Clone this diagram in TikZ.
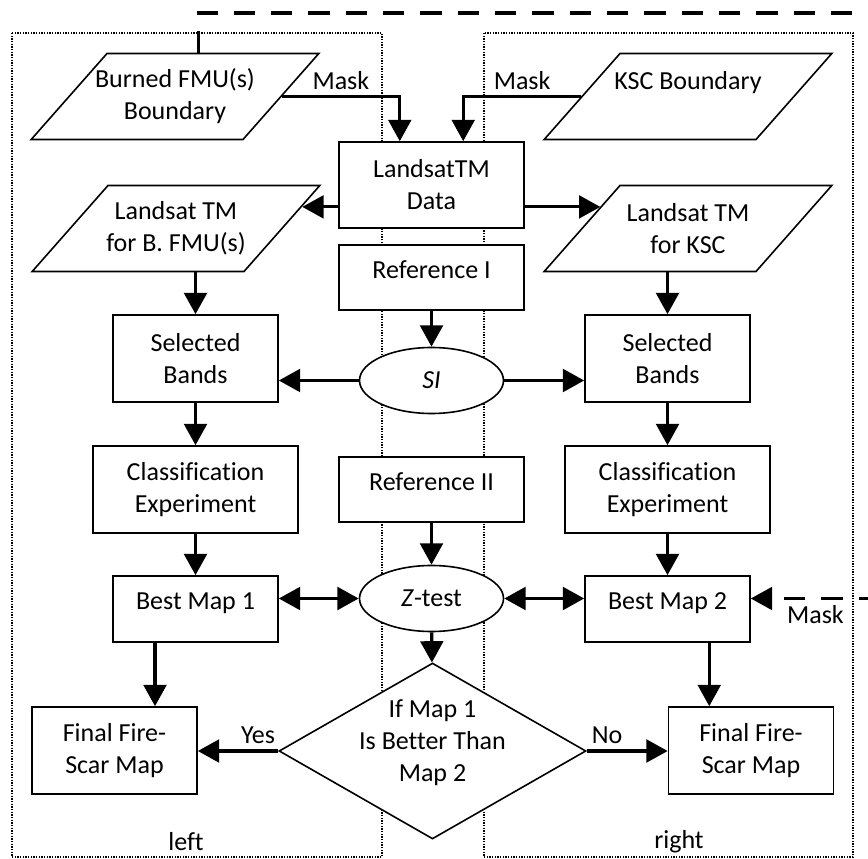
\documentclass[tikz,border=0pt]{standalone}
\usepackage{fontspec}
\setmainfont{Carlito}[Ligatures=NoCommon]
\usetikzlibrary{shapes.geometric, arrows.meta, positioning, calc}

\begin{document}
\begin{tikzpicture}[
    x=0.75pt, y=-0.75pt,
    font=\fontsize{19.5}{24}\selectfont,
    % Node styles
    process/.style={
        rectangle,
        draw=black,
        line width=1.2pt,
        fill=white,
        inner sep=1pt,
        align=center,
        minimum width=123.75pt,
        minimum height=65.25pt
    },
    oneline/.style={
        text height=10pt,
        text depth=9pt
    },
    dataset/.style={
        trapezium,
        trapezium left angle=48.6,
        trapezium right angle=131.4,
        draw=black,
        line width=1.2pt,
        fill=white,
        inner sep=0pt,
        text width=102pt,
        text height=64.5pt,
        text depth=0pt,
        label={[align=center]center:{#1}}
    },
    oval/.style={
        ellipse,
        draw=black,
        line width=1.2pt,
        fill=white,
        inner sep=0pt,
        minimum width=108pt,
        minimum height=49.5pt
    },
    decision/.style={
        diamond,
        draw=black,
        line width=1.2pt,
        fill=white,
        inner sep=0pt,
        minimum width=230.25pt,
        minimum height=132pt,
        label={[align=center, yshift=6pt]center:{#1}}
    },
    arrow/.style={
        -{Triangle[length=16pt, width=17pt]},
        line width=2.4pt
    },
    dblarrow/.style={
        {Triangle[length=16pt, width=17pt]}-{Triangle[length=16pt, width=17pt]},
        line width=2.4pt
    },
    maskline/.style={
        -{Triangle[length=16pt, width=17pt]},
        line width=2.4pt,
        dash pattern=on 16pt off 12pt
    },
    frame/.style={
        line width=1pt,
        dash pattern=on 1pt off 1pt
    },
    edgelabel/.style={
        inner sep=4pt
    },
    framelabel/.style={
        inner sep=0pt
    }
]
\useasboundingbox (0,0) rectangle (868,859);

% --- Frames (left / right) ---
\draw[frame] (12,33) rectangle (382,857);
\draw[frame] (484,33) rectangle (853,857);
\node[framelabel] (lefttag) at (186,842) {left};
\node[framelabel] (righttag) at (679,842) {right};

% --- Inputs ---
\node[dataset={Burned FMU(s)\\Boundary}] (burned) at (175,96.5) {};
\node[dataset={KSC Boundary\\\mbox{}}] (ksc) at (688,96.5) {};
\node[process, minimum width=138.75pt, minimum height=64.5pt] (data) at (431.5,185) {LandsatTM\\Data};

% --- Subsets ---
\node[dataset={Landsat TM\\for B. FMU(s)}] (lsb) at (176,228.5) {};
\node[dataset={Landsat TM\\for KSC}] (lsk) at (688,228.5) {};
\node[process, oneline, minimum width=138.75pt, minimum height=48.75pt] (ref1) at (431.5,277.5) {Reference I};

% --- Band selection ---
\node[oval] (si) at (431.5,380.5) {\textit{SI}};
\node[process] (sel1) at (195.5,358.5) {Selected\\Bands};
\node[process] (sel2) at (667.5,358.5) {Selected\\Bands};

% --- Classification ---
\node[process, minimum width=153.75pt] (cls1) at (195.5,489.5) {Classification\\Experiment};
\node[process, minimum width=153.75pt] (cls2) at (667.5,489.5) {Classification\\Experiment};
\node[process, oneline, minimum width=138.75pt, minimum height=48.75pt] (ref2) at (431.5,489.5) {Reference II};

% --- Comparison ---
\node[oval] (ztest) at (431.5,598.5) {\textit{Z}-test};
\node[process, oneline, minimum height=49.5pt] (best1) at (195.5,609) {Best Map 1};
\node[process, oneline, minimum height=49.5pt] (best2) at (667.5,609) {Best Map 2};
\node[decision={If Map 1\\Is Better Than\\Map 2}] (cmp) at (432.5,751) {};

% --- Outputs ---
\node[process] (fire1) at (114.5,750.5) {Final Fire-\\Scar Map};
\node[process] (fire2) at (751,750.5) {Final Fire-\\Scar Map};

% --- Arrows ---
\coordinate (datain1) at ($(data.north west)!0.33!(data.north east)$);
\coordinate (datain2) at ($(data.north west)!0.67!(data.north east)$);
\draw[arrow] (burned.east) -| node[edgelabel, pos=0.25, above] (mask1) {Mask} (datain1);
\draw[arrow] (ksc.west) -| node[edgelabel, pos=0.25, above] (mask2) {Mask} (datain2);

\coordinate (dataout1) at ($(data.north west)!0.75!(data.south west)$);
\coordinate (dataout2) at ($(data.north east)!0.75!(data.south east)$);
\coordinate (lsbin) at ($(lsb.top right corner)!0.25!(lsb.bottom right corner)$);
\coordinate (lskin) at ($(lsk.top left corner)!0.25!(lsk.bottom left corner)$);
\draw[arrow] (dataout1) -- (dataout1 -| lsbin);
\draw[arrow] (dataout2) -- (dataout2 -| lskin);

\draw[arrow] (lsb.south -| sel1.north) -- (sel1.north);
\draw[arrow] (lsk.south -| sel2.north) -- (sel2.north);
\draw[arrow] (ref1) -- (si);
\draw[arrow] (si.west) -- (si.west -| sel1.east);
\draw[arrow] (si.east) -- (si.east -| sel2.west);
\draw[arrow] (sel1) -- (cls1);
\draw[arrow] (sel2) -- (cls2);
\draw[arrow] (cls1) -- (best1);
\draw[arrow] (cls2) -- (best2);
\draw[arrow] (ref2) -- (ztest);
\draw[dblarrow] (ztest.west) -- (ztest.west -| best1.east);
\draw[dblarrow] (ztest.east) -- (ztest.east -| best2.west);
\draw[arrow] (ztest) -- (cmp);

\coordinate (drop1) at ($(best1.south west)!0.5!(fire1.north east)$);
\coordinate (drop2) at ($(best2.south east)!0.5!(fire2.north west)$);
\draw[arrow] (best1.south -| drop1) -- (fire1.north -| drop1);
\draw[arrow] (best2.south -| drop2) -- (fire2.north -| drop2);

\draw[arrow] (cmp.west) -- node[edgelabel, pos=0.25, above] (yes) {Yes} (cmp.west -| fire1.east);
\draw[arrow] (cmp.east) -- node[edgelabel, pos=0.25, above] (no) {No} (cmp.east -| fire2.west);

% --- Mask feedback to Best Map 2 ---
\coordinate (maskstart) at ($(burned.top left corner)!0.43!(burned.top right corner)$);
\coordinate (maskturn) at (880,13);
\draw[maskline] (maskstart) |- (maskturn) |- node[edgelabel, pos=0.75, below] (mask3) {Mask} (ztest.east -| best2.east);

\end{tikzpicture}
\end{document}
